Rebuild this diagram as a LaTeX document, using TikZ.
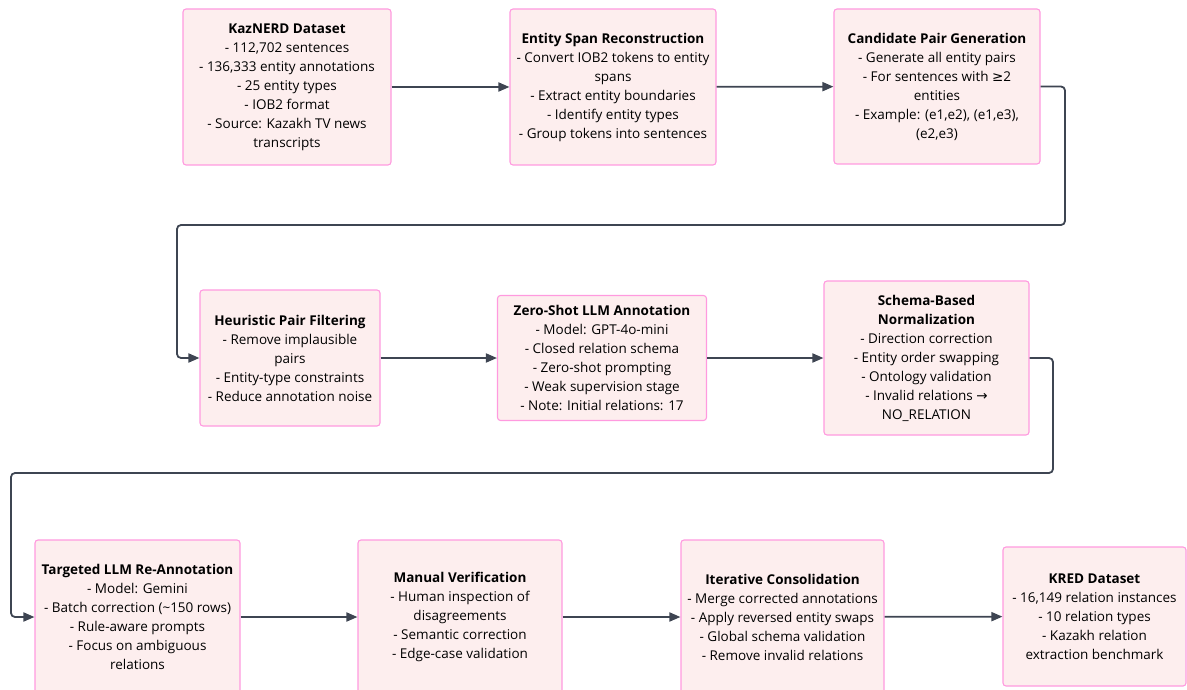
\documentclass[tikz,border=0pt]{standalone}
\usepackage{fontspec}
\setmainfont{Open Sans}
\newfontfamily\symfont{DejaVu Sans}
\usetikzlibrary{arrows.meta}

\definecolor{stagefill}{HTML}{FDEEEE}
\definecolor{stageline}{HTML}{FF9ADF}
\definecolor{flowgray}{HTML}{3E4552}

\begin{document}
\begin{tikzpicture}[x=1pt,y=-1pt,
	stage/.style={draw=stageline, fill=stagefill, line width=1.1pt, rounded corners=3pt,
		align=center, font=\fontsize{13.5}{19}\selectfont, inner sep=0pt},
	flow/.style={draw=flowgray, line width=1.8pt, rounded corners=4pt,
		-{Triangle[length=11pt,width=9pt]}}]

	\useasboundingbox (0,0) rectangle (1187,690);

	% Row 1
	\node [stage, minimum width=208, minimum height=156] (kaznerd) at (287,87)
		{\textbf{KazNERD Dataset}\\- 112,702 sentences\\- 136,333 entity annotations\\- 25 entity types\\- IOB2 format\\- Source: Kazakh TV news\\transcripts};
	\node [stage, minimum width=206, minimum height=156] (span) at (613,87)
		{\textbf{Entity Span Reconstruction}\\- Convert IOB2 tokens to entity\\spans\\- Extract entity boundaries\\- Identify entity types\\- Group tokens into sentences};
	\node [stage, minimum width=206, minimum height=155] (cand) at (937,86.5)
		{\textbf{Candidate Pair Generation}\\- Generate all entity pairs\\- For sentences with {\symfont ≥}2\\entities\\- Example: (e1,e2), (e1,e3),\\(e2,e3)};

	% Row 2
	\node [stage, minimum width=180, minimum height=136] (heur) at (290,358)
		{\textbf{Heuristic Pair Filtering}\\- Remove implausible\\pairs\\- Entity-type constraints\\- Reduce annotation noise};
	\node [stage, minimum width=209, minimum height=125] (zeroshot) at (602,358)
		{\textbf{Zero-Shot LLM Annotation}\\- Model: GPT-4o-mini\\- Closed relation schema\\- Zero-shot prompting\\- Weak supervision stage\\- Note: Initial relations: 17};
	\node [stage, minimum width=205, minimum height=154] (schema) at (926.5,358)
		{\textbf{Schema-Based}\\\textbf{Normalization}\\- Direction correction\\- Entity order swapping\\- Ontology validation\\- Invalid relations {\symfont →}\\NO\_RELATION};

	% Row 3
	\node [stage, minimum width=205, minimum height=154] (target) at (137.5,617)
		{\textbf{Targeted LLM Re-Annotation}\\- Model: Gemini\\- Batch correction (\textasciitilde150 rows)\\- Rule-aware prompts\\- Focus on ambiguous\\relations};
	\node [stage, minimum width=204, minimum height=154] (manual) at (460,617)
		{\textbf{Manual Verification}\\- Human inspection of\\disagreements\\- Semantic correction\\- Edge-case validation};
	\node [stage, minimum width=203, minimum height=154] (iter) at (782.5,617)
		{\textbf{Iterative Consolidation}\\- Merge corrected annotations\\- Apply reversed entity swaps\\- Global schema validation\\- Remove invalid relations};
	\node [stage, minimum width=183, minimum height=139] (kred) at (1094.5,616.5)
		{\textbf{KRED Dataset}\\- 16,149 relation instances\\- 10 relation types\\- Kazakh relation\\extraction benchmark};

	% Bends
	\coordinate (turnA) at (1065,225);
	\coordinate (backA) at (177,225);
	\coordinate (turnB) at (1053,473);
	\coordinate (backB) at (11,473);

	% Arrows
	\draw [flow] (kaznerd) -- (span);
	\draw [flow] (span) -- (cand);
	\draw [flow] (cand.east) -| (turnA) -- (backA) |- (heur.west);
	\draw [flow] (heur) -- (zeroshot);
	\draw [flow] (zeroshot) -- (schema);
	\draw [flow] (schema.east) -| (turnB) -- (backB) |- (target.west);
	\draw [flow] (target) -- (manual);
	\draw [flow] (manual) -- (iter);
	\draw [flow] (iter) -- (kred);

\end{tikzpicture}
\end{document}
